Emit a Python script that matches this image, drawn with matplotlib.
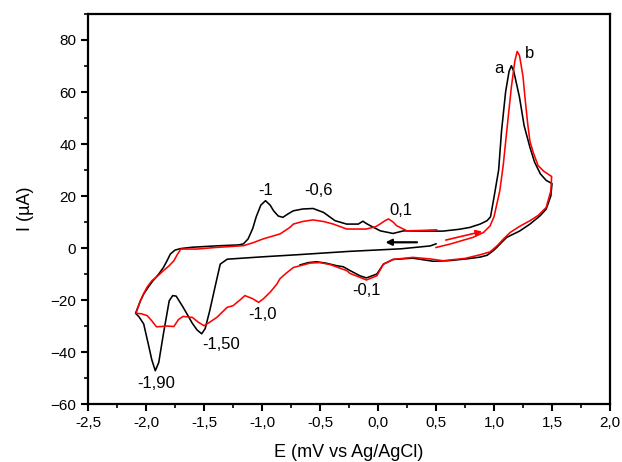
#!/usr/bin/env python3

import matplotlib
matplotlib.use("Agg")
import matplotlib.pyplot as plt
from matplotlib.ticker import MultipleLocator, FuncFormatter

# curve a (black): starts at 0.5 V going negative, vertex at -2.1 V and +1.5 V
a_volts = [
    0.50, 0.45, 0.20, -0.25, -0.70, -1.00, -1.30, -1.36, -1.40, -1.45, -1.49, -1.52,
    -1.56, -1.60, -1.68, -1.74, -1.77, -1.80, -1.85, -1.89, -1.92, -1.95, -1.98,
    -2.02, -2.06, -2.09,
    -2.05, -2.02, -1.98, -1.94, -1.89, -1.85, -1.82, -1.79, -1.75, -1.70, -1.60,
    -1.40, -1.20, -1.16, -1.12, -1.08, -1.05, -1.01, -0.97, -0.93, -0.90, -0.86,
    -0.82, -0.78, -0.73, -0.65, -0.56, -0.47, -0.37, -0.27, -0.17, -0.13, -0.10,
    -0.05, 0.02, 0.13, 0.22, 0.40, 0.56, 0.70, 0.79, 0.88, 0.94, 0.97, 1.00, 1.04,
    1.065, 1.10, 1.13, 1.15, 1.17, 1.20, 1.22, 1.26, 1.31, 1.35, 1.40, 1.45, 1.50,
    1.49, 1.45, 1.40, 1.31, 1.22, 1.11, 1.08, 1.03, 0.995, 0.94, 0.88, 0.76, 0.60,
    0.475, 0.30, 0.13, 0.047, -0.01, -0.10, -0.155, -0.24, -0.30, -0.357, -0.45,
    -0.53, -0.60, -0.672,
]
a_current = [
    1.6, 0.8, -0.3, -1.3, -2.6, -3.4, -4.3, -6.2, -14.0, -24.0, -31.0, -33.0,
    -31.5, -29.0, -22.8, -18.5, -18.3, -20.3, -33.0, -44.0, -47.2, -43.0, -37.0,
    -29.2, -26.5, -25.1,
    -20.5, -17.7, -15.0, -12.6, -10.0, -7.5, -5.0, -2.3, -0.8, -0.2, 0.3,
    0.8, 1.2, 1.6, 3.5, 7.5, 12.0, 16.5, 18.2, 16.5, 14.3, 12.3,
    11.8, 13.0, 14.3, 15.0, 15.2, 13.7, 10.5, 9.2, 9.2, 10.3, 9.4,
    8.2, 6.6, 5.6, 6.6, 6.5, 6.5, 7.2, 7.9, 9.2, 10.5, 12.0, 19.5, 30.0,
    45.0, 60.0, 68.0, 70.1, 68.0, 62.0, 57.9, 47.0, 38.7, 33.0, 28.5, 26.0, 24.8,
    20.0, 15.0, 12.5, 9.2, 6.5, 4.1, 2.8, 0.5, -1.0, -2.8, -3.5, -4.2, -4.9,
    -5.1, -3.9, -4.4, -6.2, -10.0, -11.5, -10.7, -8.7, -7.2, -6.8, -5.8,
    -5.3, -5.6, -6.5,
]

# curve b (red): starts at 0.5 V going positive
b_volts = [
    0.50, 0.62, 0.72, 0.82, 0.91, 0.966, 1.00, 1.05, 1.08, 1.11, 1.15, 1.18, 1.20,
    1.22, 1.25, 1.267, 1.29, 1.31, 1.34, 1.38, 1.43, 1.497,
    1.49, 1.45, 1.38, 1.31, 1.22, 1.14, 1.08, 1.03, 0.966, 0.88, 0.75, 0.56, 0.45,
    0.30, 0.13, 0.047, -0.01, -0.10, -0.155, -0.24, -0.27, -0.41, -0.50, -0.586,
    -0.73, -0.80, -0.845, -0.874, -0.93, -0.99, -1.03, -1.08, -1.147, -1.19, -1.25,
    -1.30, -1.39, -1.45, -1.50, -1.55, -1.60, -1.68, -1.72, -1.76, -1.82, -1.87,
    -1.91, -1.95, -1.99, -2.04, -2.086,
    -2.05, -2.02, -1.99, -1.95, -1.90, -1.85, -1.80, -1.76, -1.73, -1.70, -1.56,
    -1.40, -1.16, -1.08, -0.99, -0.90, -0.845, -0.76, -0.73, -0.65, -0.56, -0.47,
    -0.385, -0.27, -0.10, -0.02, 0.017, 0.06, 0.09, 0.13, 0.16, 0.25, 0.40, 0.506,
]
b_current = [
    0.2, 1.5, 2.8, 4.1, 6.0, 8.5, 12.0, 22.0, 32.0, 45.0, 62.0, 72.0, 75.6,
    74.0, 66.0, 57.9, 48.0, 41.0, 36.5, 31.7, 29.5, 27.5,
    22.0, 15.6, 12.5, 10.5, 8.3, 6.0, 3.4, 1.0, -1.5, -2.6, -4.0, -4.9, -4.2,
    -3.6, -4.4, -6.2, -10.7, -12.3, -11.3, -9.8, -8.7, -6.4, -5.6, -5.8,
    -7.5, -10.0, -11.8, -14.0, -17.0, -19.6, -20.9, -19.5, -18.3, -20.0, -22.2,
    -22.8, -26.7, -28.5, -29.9, -28.5, -26.7, -26.3, -27.5, -30.2, -30.0, -30.2,
    -30.3, -28.0, -26.0, -25.3, -25.1,
    -20.5, -17.5, -15.0, -12.6, -10.8, -8.7, -6.8, -4.9, -2.5, -0.4, -0.4,
    0.2, 0.9, 2.0, 3.5, 4.7, 5.4, 7.9, 9.2, 10.2, 10.8, 10.2,
    9.2, 7.3, 7.3, 8.2, 9.2, 10.5, 11.2, 10.0, 8.6, 6.6, 6.8, 7.0,
]

# peak labels: (text, x, y) in data units
peak_labels = [
    ("-1", -0.97, 22.0),
    ("-0,6", -0.51, 22.0),
    ("0,1", 0.20, 14.3),
    ("a", 1.04, 69.0),
    ("b", 1.31, 75.0),
    ("-0,1", -0.10, -16.5),
    ("-1,90", -1.91, -52.0),
    ("-1,50", -1.35, -37.0),
    ("-1,0", -1.00, -25.5),
]

plt.rcParams['font.family'] = ['Liberation Sans', 'DejaVu Sans']

fig = plt.figure(figsize=(6.22, 4.62), dpi=100)
ax = fig.add_axes([0.1415, 0.1255, 0.8392, 0.8442])

ax.plot(a_volts, a_current, color='black', lw=1.15)
ax.plot(b_volts, b_current, color='red', lw=1.15)

# scan direction arrows
ax.annotate("", xy=(0.04, 2.2), xytext=(0.36, 2.2),
            arrowprops=dict(arrowstyle='-|>', color='black', lw=1.6, mutation_scale=9))
ax.annotate("", xy=(0.92, 6.6), xytext=(0.56, 2.8),
            arrowprops=dict(arrowstyle='-|>', color='red', lw=1.2, mutation_scale=9))

for text, x, y in peak_labels:
    ax.text(x, y, text, fontsize=12, ha='center', va='center')

ax.set_xlim(-2.5, 2.0)
ax.set_ylim(-60, 90)
ax.xaxis.set_major_locator(MultipleLocator(0.5))
ax.xaxis.set_minor_locator(MultipleLocator(0.25))
ax.yaxis.set_minor_locator(MultipleLocator(10))
ax.set_yticks(range(-60, 81, 20))
ax.xaxis.set_major_formatter(FuncFormatter(lambda v, pos: f"{v:.1f}".replace(".", ",")))

ax.tick_params(which='major', direction='out', length=5, width=1.5, labelsize=11)
ax.tick_params(which='minor', direction='out', length=3, width=1.2)
for spine in ax.spines.values():
    spine.set_linewidth(1.6)

ax.set_xlabel("E (mV vs Ag/AgCl)", fontsize=13, labelpad=10)
ax.set_ylabel("I (\u00b5A)", fontsize=13, labelpad=12)

fig.savefig("out.png", dpi=100)
